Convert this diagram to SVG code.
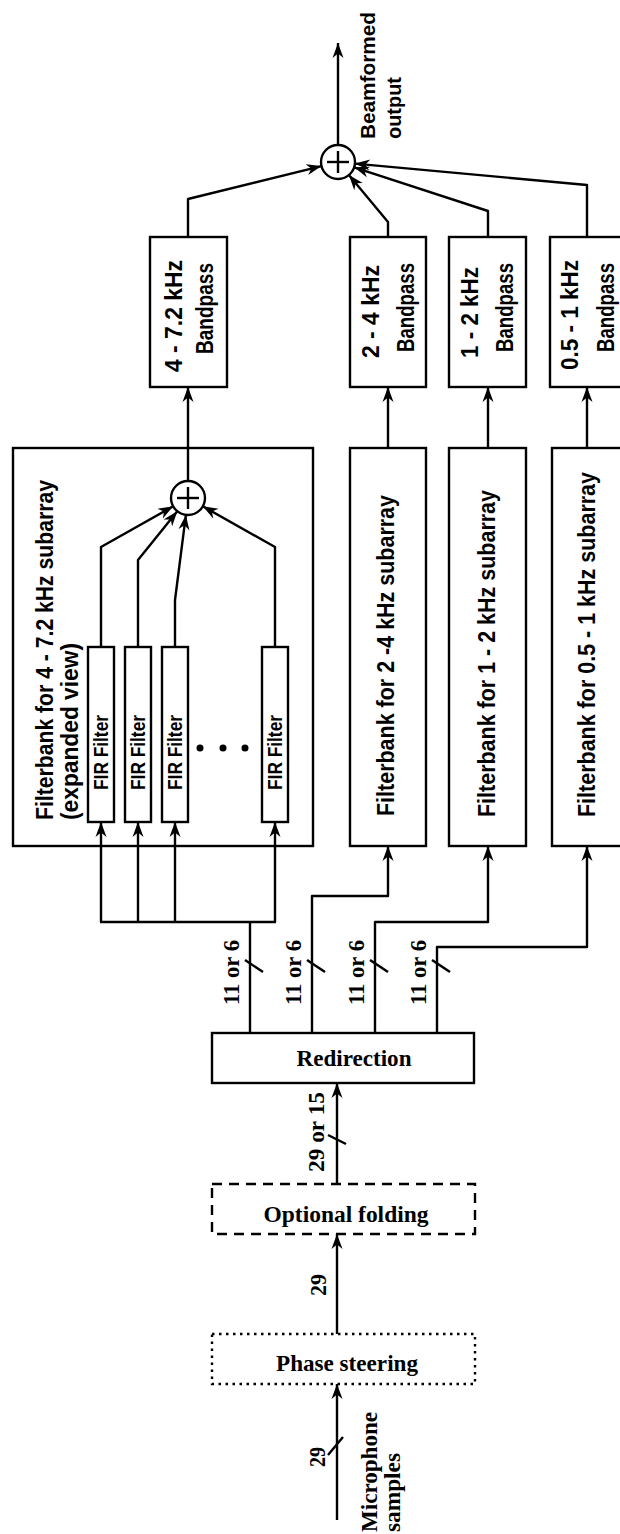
<svg xmlns="http://www.w3.org/2000/svg" width="620" height="1534" viewBox="0 0 620 1534">
<style>
.box{fill:none;stroke:#000;stroke-width:2.4}
.dash{stroke-dasharray:10 7}
.dot{stroke-dasharray:2.5 4.5}
.ln{fill:none;stroke:#000;stroke-width:2.4;stroke-linejoin:round}
.arr{marker-end:url(#ah)}
.sans{font-family:"Liberation Sans",Arial,sans-serif;font-weight:bold;fill:#000}
.serif{font-family:"Liberation Serif","Times New Roman",serif;font-weight:bold;fill:#000}
</style>
<defs>
<marker id="ah" markerUnits="userSpaceOnUse" viewBox="-16 -7 17 14" refX="0" refY="0" markerWidth="17" markerHeight="14" orient="auto">
<path d="M0,0 L-15,-5.5 L-10.5,0 L-15,5.5 Z" fill="#000"/>
</marker>
</defs>

<g id="connectors">
<line class="ln arr" x1="338" y1="145" x2="338" y2="43"/>
<polyline class="ln arr" points="188,237 188,199 321.5,166.1"/>
<polyline class="ln arr" points="388,237 388,222 348.9,175.1"/>
<polyline class="ln arr" points="488,237 488,211 354.2,167.3"/>
<polyline class="ln arr" points="587,237 587,185 354.9,163.6"/>
<line class="ln arr" x1="188" y1="481" x2="188" y2="387"/>
<line class="ln arr" x1="388" y1="448" x2="388" y2="387"/>
<line class="ln arr" x1="488" y1="448" x2="488" y2="387"/>
<line class="ln arr" x1="587" y1="448" x2="587" y2="387"/>
<polyline class="ln arr" points="101,647 101,547 173.2,506.3"/>
<polyline class="ln arr" points="138,647 138,560 177.3,511.2"/>
<polyline class="ln arr" points="175,647 175,600 185.9,514.9"/>
<polyline class="ln arr" points="275,647 275,547 202.8,506.3"/>
<line class="ln" x1="100" y1="922" x2="276" y2="922"/>
<line class="ln arr" x1="101" y1="922" x2="101" y2="822"/>
<line class="ln arr" x1="138" y1="922" x2="138" y2="822"/>
<line class="ln arr" x1="175" y1="922" x2="175" y2="822"/>
<line class="ln arr" x1="275" y1="922" x2="275" y2="822"/>
<line class="ln" x1="250" y1="1033" x2="250" y2="922"/>
<polyline class="ln arr" points="312,1033 312,896 388,896 388,846"/>
<polyline class="ln arr" points="375,1033 375,922 488,922 488,846"/>
<polyline class="ln arr" points="437,1033 437,947 587,947 587,846"/>
<line class="ln" x1="245" y1="960" x2="263" y2="972"/>
<line class="ln" x1="307" y1="960" x2="325" y2="972"/>
<line class="ln" x1="370" y1="960" x2="388" y2="972"/>
<line class="ln" x1="432" y1="960" x2="450" y2="972"/>
<line class="ln arr" x1="337" y1="1184" x2="337" y2="1083"/>
<line class="ln" x1="328" y1="1135" x2="346" y2="1144"/>
<line class="ln arr" x1="337" y1="1334" x2="337" y2="1234"/>
<line class="ln arr" x1="337" y1="1520" x2="337" y2="1384"/>
<line class="ln" x1="328" y1="1455" x2="343" y2="1437"/>
</g>

<g id="sum-out">
<circle cx="338" cy="162" r="17" fill="#fff" stroke="#000" stroke-width="2.4"/>
<line class="ln" x1="327" y1="162" x2="349" y2="162"/>
<line class="ln" x1="338" y1="151" x2="338" y2="173"/>
</g>
<g id="label-output">
<text class="sans" font-size="21" transform="translate(375,139) rotate(-90)" textLength="127" lengthAdjust="spacingAndGlyphs">Beamformed</text>
<text class="sans" font-size="21" transform="translate(401,139) rotate(-90)" textLength="62" lengthAdjust="spacingAndGlyphs">output</text>
</g>

<g id="bp-4-7">
<rect class="box" x="150" y="237" width="77" height="150"/>
<text class="sans" font-size="24" transform="translate(182,372) rotate(-90)" textLength="112" lengthAdjust="spacingAndGlyphs">4 - 7.2 kHz</text>
<text class="sans" font-size="24" transform="translate(213,354) rotate(-90)" textLength="91" lengthAdjust="spacingAndGlyphs">Bandpass</text>
</g>
<g id="bp-2-4">
<rect class="box" x="350" y="237" width="76" height="150"/>
<text class="sans" font-size="24" transform="translate(379,358) rotate(-90)" textLength="93" lengthAdjust="spacingAndGlyphs">2 - 4 kHz</text>
<text class="sans" font-size="24" transform="translate(414,352) rotate(-90)" textLength="89" lengthAdjust="spacingAndGlyphs">Bandpass</text>
</g>
<g id="bp-1-2">
<rect class="box" x="449" y="237" width="77" height="150"/>
<text class="sans" font-size="24" transform="translate(478,358) rotate(-90)" textLength="91" lengthAdjust="spacingAndGlyphs">1 - 2 kHz</text>
<text class="sans" font-size="24" transform="translate(513,352) rotate(-90)" textLength="89" lengthAdjust="spacingAndGlyphs">Bandpass</text>
</g>
<g id="bp-05-1">
<rect class="box" x="550" y="237" width="80" height="150"/>
<text class="sans" font-size="24" transform="translate(578,370) rotate(-90)" textLength="110" lengthAdjust="spacingAndGlyphs">0.5 - 1 kHz</text>
<text class="sans" font-size="24" transform="translate(614,352) rotate(-90)" textLength="89" lengthAdjust="spacingAndGlyphs">Bandpass</text>
</g>

<g id="fb-4-7">
<rect class="box" x="13" y="448" width="300" height="398"/>
<text class="sans" font-size="24" transform="translate(53,820) rotate(-90)" textLength="340" lengthAdjust="spacingAndGlyphs">Filterbank for 4 - 7.2 kHz subarray</text>
<text class="sans" font-size="24" transform="translate(78,820) rotate(-90)" textLength="177" lengthAdjust="spacingAndGlyphs">(expanded view)</text>
<circle cx="188" cy="498" r="17" fill="#fff" stroke="#000" stroke-width="2.4"/>
<line class="ln" x1="177" y1="498" x2="199" y2="498"/>
<line class="ln" x1="188" y1="487" x2="188" y2="509"/>
<circle cx="200" cy="748" r="3.5"/>
<circle cx="223" cy="748" r="3.5"/>
<circle cx="245" cy="748" r="3.5"/>
</g>
<g id="fir-1">
<rect class="box" x="88" y="647" width="26" height="175"/>
<text class="sans" font-size="20" transform="translate(108,790) rotate(-90)" textLength="75" lengthAdjust="spacingAndGlyphs">FIR Filter</text>
</g>
<g id="fir-2">
<rect class="box" x="125" y="647" width="26" height="175"/>
<text class="sans" font-size="20" transform="translate(145,790) rotate(-90)" textLength="75" lengthAdjust="spacingAndGlyphs">FIR Filter</text>
</g>
<g id="fir-3">
<rect class="box" x="162" y="647" width="26" height="175"/>
<text class="sans" font-size="20" transform="translate(182,790) rotate(-90)" textLength="75" lengthAdjust="spacingAndGlyphs">FIR Filter</text>
</g>
<g id="fir-n">
<rect class="box" x="262" y="647" width="26" height="175"/>
<text class="sans" font-size="20" transform="translate(282,790) rotate(-90)" textLength="75" lengthAdjust="spacingAndGlyphs">FIR Filter</text>
</g>

<g id="fb-2-4">
<rect class="box" x="350" y="448" width="76" height="398"/>
<text class="sans" font-size="24" transform="translate(394,816) rotate(-90)" textLength="321" lengthAdjust="spacingAndGlyphs">Filterbank for 2 -4 kHz subarray</text>
</g>
<g id="fb-1-2">
<rect class="box" x="449" y="448" width="77" height="398"/>
<text class="sans" font-size="24" transform="translate(495,817) rotate(-90)" textLength="327" lengthAdjust="spacingAndGlyphs">Filterbank for 1 - 2 kHz subarray</text>
</g>
<g id="fb-05-1">
<rect class="box" x="552" y="448" width="80" height="398"/>
<text class="sans" font-size="24" transform="translate(595,817) rotate(-90)" textLength="345" lengthAdjust="spacingAndGlyphs">Filterbank for 0.5 - 1 kHz subarray</text>
</g>

<g id="bus-labels">
<text class="serif" font-size="24" transform="translate(239,1005) rotate(-90)" textLength="65" lengthAdjust="spacingAndGlyphs">11 or 6</text>
<text class="serif" font-size="24" transform="translate(301,1005) rotate(-90)" textLength="65" lengthAdjust="spacingAndGlyphs">11 or 6</text>
<text class="serif" font-size="24" transform="translate(364,1005) rotate(-90)" textLength="65" lengthAdjust="spacingAndGlyphs">11 or 6</text>
<text class="serif" font-size="24" transform="translate(426,1005) rotate(-90)" textLength="65" lengthAdjust="spacingAndGlyphs">11 or 6</text>
<text class="serif" font-size="24" transform="translate(324,1172) rotate(-90)" textLength="80" lengthAdjust="spacingAndGlyphs">29 or 15</text>
<text class="serif" font-size="24" transform="translate(326,1296) rotate(-90)" textLength="22" lengthAdjust="spacingAndGlyphs">29</text>
<text class="serif" font-size="24" transform="translate(325,1467) rotate(-90)" textLength="20" lengthAdjust="spacingAndGlyphs">29</text>
</g>

<g id="redirection">
<rect class="box" x="212" y="1033" width="262" height="50"/>
<text class="serif" font-size="24" x="354" y="1066" text-anchor="middle" textLength="115" lengthAdjust="spacingAndGlyphs">Redirection</text>
</g>
<g id="folding">
<rect class="box dash" x="212" y="1184" width="263" height="50"/>
<text class="serif" font-size="24" x="346" y="1222" text-anchor="middle" textLength="165" lengthAdjust="spacingAndGlyphs">Optional folding</text>
</g>
<g id="phase">
<rect class="box dot" x="212" y="1334" width="263" height="50"/>
<text class="serif" font-size="24" x="347" y="1371" text-anchor="middle" textLength="142" lengthAdjust="spacingAndGlyphs">Phase steering</text>
</g>
<g id="label-input">
<text class="serif" font-size="24" transform="translate(377,1532) rotate(-90)" textLength="120" lengthAdjust="spacingAndGlyphs">Microphone</text>
<text class="serif" font-size="24" transform="translate(400,1532) rotate(-90)" textLength="79" lengthAdjust="spacingAndGlyphs">samples</text>
</g>
</svg>
